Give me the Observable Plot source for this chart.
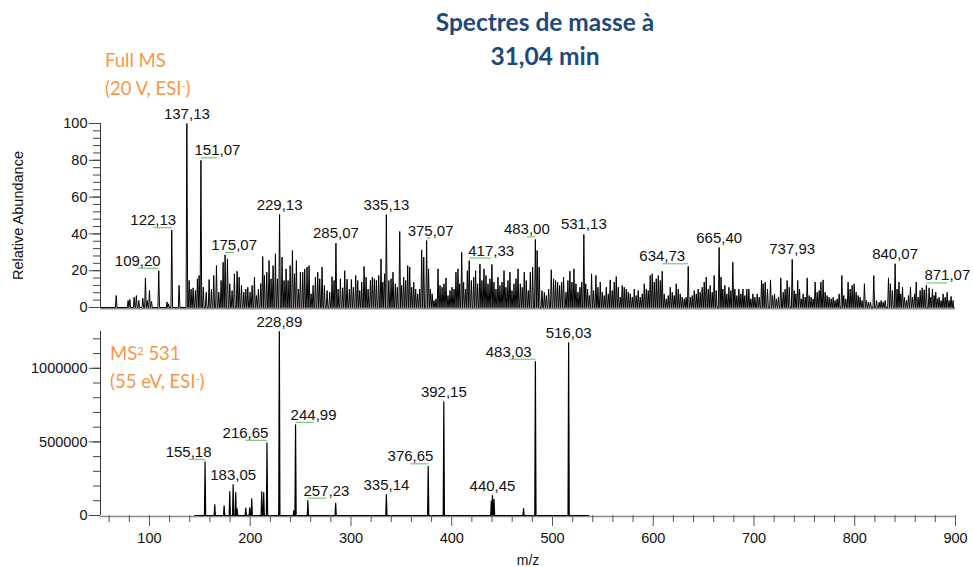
<!DOCTYPE html>
<html><head><meta charset="utf-8">
<script src="https://cdn.jsdelivr.net/npm/d3@7"></script>
<script src="https://cdn.jsdelivr.net/npm/@observablehq/plot@0.6"></script>
<style>
html,body{margin:0;padding:0;background:#fff;}
#chart{position:relative;width:973px;height:567px;overflow:hidden;font-family:"Liberation Sans",Arial,sans-serif;}
#chart .pbox{position:absolute;left:0;}
.title{position:absolute;left:345px;width:400px;top:5px;text-align:center;font-family:Lato,"Open Sans",sans-serif;font-weight:700;font-size:24.5px;line-height:34px;color:#1f497d;}
.cond{position:absolute;font-family:Lato,"Open Sans",sans-serif;font-size:18.5px;line-height:28px;color:#f79646;white-space:nowrap;}
.cond sup{font-size:0.6em;position:relative;top:-0.45em;vertical-align:baseline;line-height:0;}
</style>
</head><body>
<div id="chart">
  <div class="title">Spectres de masse à<br>31,04 min</div>
  <div class="cond" style="left:105px;top:46px;">Full MS<br>(20 V, ESI<sup>-</sup>)</div>
  <div class="cond" style="left:110px;top:339px;">MS<sup>2</sup> 531<br>(55 eV, ESI<sup>-</sup>)</div>
</div>
<script>
// ---------- data ----------
const fullMsPeaks = [
[67,6.5],[78.8,3.8],[80.5,4.3],[84.8,5.6],[87,6.5],[89.4,3.8],[93.4,5],[96,16],[97.7,3.8],[100,9.2],[102,3.3],[109.2,20],[117.5,3],[118.9,2],[122.13,42],[129.4,12],[137.13,100],[139.4,14.7],[141.3,10],[143.3,10.7],[145.6,9.2],[147.6,15.6],[149.3,17.4],[151.07,80],[153.4,11],[156.3,8.3],[159.2,15.2],[161.5,10],[163.8,17.4],[166.5,22.8],[168.8,8.3],[171.1,14.7],[173.1,24.6],[175.07,28.6],[177.4,26.4],[179.7,12.9],[182,9.2],[184.3,18.3],[187,19.7],[189,16.5],[191.3,12],[193.6,8.3],[195.6,10],[197.6,11],[199.9,8.3],[201.9,12],[204.2,16.5],[206.2,6.5],[208.1,10],[210.5,13],[212.4,27.7],[214.1,17.4],[216.4,19.2],[218.7,25.5],[220.7,15.6],[222.7,22.8],[225,29.2],[227,15.6],[229.13,50.5],[231.6,27.4],[233.6,14.7],[235.6,21],[237.6,14.7],[239.6,22.8],[241.9,31],[243.9,18.3],[245.8,25.5],[247.8,10],[249.8,19.2],[252.1,19.2],[254.1,21],[256.4,22],[258.4,22.8],[260.4,7.4],[262.4,12],[264.7,16.5],[267,19.2],[269,15.6],
[271.3,22],[273.6,12],[276.3,9.2],[278.9,8.3],[281.2,16.8],[283.2,14.7],[285.07,35],[287.2,10],[289.5,15.6],[291.8,10.7],[293.8,20],[296.1,15.4],[298.4,10],[300.4,15.2],[302.4,11],[304.7,17.4],[306.7,14.7],[308.7,9.2],[310.7,13.8],[313,22.3],[315,16.5],[317,10],[319.3,14.7],[321.2,16.5],[323.2,15.6],[325.2,14.7],[327.5,17.4],[329.8,26.4],[331.6,13.8],[333.3,18.3],[335.13,50.5],[337.6,14.7],[339.8,15.6],[341.7,19.2],[344,12.9],[346,11],[348.4,41.3],[350.3,12],[352.3,16.5],[354.3,14.7],[356.3,22.8],[358.3,22],[360.3,11],[362.3,13.8],[364.2,10],[366.2,7.4],[368.2,10],[370.2,31.3],[372.2,27.4],[375.07,36.4],[377,21],[378.8,10],[380.6,7.4],[382.4,3.8],[384.4,4.7],[386.4,21],[388.4,12],[390.4,11],[392.3,12.9],[394.3,16.1],[396.3,6.5],[398.3,9.2],[400.3,11],[402.3,10],[404.2,19.2],[406.2,21],[407.9,12.9],[409.9,30],[411.8,13.8],[413.8,10],[415.5,20],[417.33,25.5],[419.5,14.7],[421.8,16.5],[423.7,20],[425.7,12.9],[428,23.7],[430,14.7],[432,21],[434,17.4],[436,12.9],[438,15.6],[439.9,23.4],[441.9,13.8],[443.9,10],[445.9,16.5],[447.9,12],[449.9,13.8],[451.9,20],[453.8,11],[455.8,14.7],[457.8,19.2],[459.8,9.2],[461.8,12.9],[463.8,15.6],[465.8,21],[468.1,12.9],[470,11],[472,19.2],[474,14.7],[476,9.2],[478,19.2],[480.3,22],[483,37],[484.8,31],[486.8,22],
[489.6,9.2],[491.9,8.3],[493.9,6.5],[496.2,10],[498.8,20.5],[501.1,15.6],[503.1,14.7],[505.1,13.8],[507.1,12],[509.1,13.8],[511,16.5],[513.4,8.3],[515.3,14.7],[517.3,19.7],[519.3,13.8],[521.3,21],[523.3,12.9],[525.3,8.3],[527.3,11],[529,13.8],[531.13,39.7],[533,12.9],[534.8,10],[536.6,6.5],[538.8,18.3],[540.8,9.2],[543.1,17.4],[545.1,11],[547.4,13.8],[549.4,8.3],[551.4,6.5],[553.4,11],[555.4,7.4],[557.3,15],[559.3,9.2],[561.3,13.8],[563.3,16.8],[565.3,11],[567.3,5.6],[569.2,12],[571.2,11],[573.2,10],[575.2,8.3],[577.2,7.4],[579.2,5.6],[581.2,10],[583.1,6.5],[585.1,9.2],[587.1,5.6],[589.1,7.4],[591.1,12.9],[593.1,10],[595,9.2],[597,17.4],[599,18.3],[601,13.8],[603,15.6],[605,17.4],[607,14.7],[608.9,19.7],[610.9,7.4],[612.9,4.7],[614.9,6.5],[616.9,11],[618.9,8.3],[620.8,6.5],[622.8,12.9],[624.8,10],[626.8,7.4],[628.8,5.6],[630.8,4.7],[632.6,5.6],[634.73,22.4],[636.8,5.6],[638.7,6.5],[640.7,9.2],[642.7,7.4],[644.6,10],[646.6,8.3],[648.6,11],[650.6,13.8],[652.6,16.5],[654.6,10],[656.5,12],[658.5,8.3],[660.5,17.4],[662.5,9.2],[665.4,32.6],[667.3,16.5],[669.1,10],[671.1,12],[673.1,7.4],[675.1,11],[677.1,9.2],[679,24.6],[681,10],[683,6.5],[685,10],[687,7.4],[689,10],[690.9,6.5],[692.9,10],[694.9,10],[696.9,4.7],[698.9,7.4],
[700.9,5.6],[703.2,7.4],[705.2,5.6],[707.5,14.7],[709.1,12.9],[711.1,13.8],[713.4,10],[716.4,15],[718.4,6.5],[720.4,7.4],[722.3,4.7],[724.3,5.6],[726.6,16.1],[729,8.3],[730.9,10],[732.9,14.7],[735,11],[737.93,26.2],[739.9,9.2],[741.6,7.4],[743.4,14.7],[745.2,10],[746.9,4.7],[748.8,7.4],[750.8,5.6],[752.8,16.1],[754.8,6.5],[756.7,5.6],[758.7,4.7],[760.7,13.8],[762.7,8.3],[764.7,9.2],[766.4,13.8],[768.6,15],[770.6,8.3],[772.6,6.5],[774.6,5.6],[776.6,4.7],[778.6,5.6],[780.5,3.8],[782.5,4.7],[784.5,7.4],[787.2,17.4],[789.1,6.5],[791.1,4.7],[793.4,13.8],[795.4,10],[797.4,12],[799.4,12.9],[801.4,8.3],[803.4,6.5],[805.3,5.6],[807.3,3.8],[809.6,12.9],[811.6,3.8],[813.6,2.9],[815.6,2.9],[818.9,17.4],[821.6,3.8],[824.2,2.9],[826.2,3.8],[828.2,2.9],[830.2,3.8],[833.5,16.1],[835.4,12.9],[837.4,9.2],[840.07,23.8],[842,10],[843.9,13.8],[845.7,7.4],[847.4,11],[849.3,5.6],[851.3,3.8],[853.3,6.5],[855.3,11],[857.3,5.6],[859.3,7.4],[861,13.8],[862.9,5.6],[864.9,9.2],[866.9,10.7],[868.9,9.6],[871.07,12],[873.8,10.7],[875.5,5.6],[877.1,10],[878.8,6.5],[880.4,8.3],[882.1,4.7],[883.7,5.6],[885.7,3.8],[887.7,7.4],[889.7,5.6],[891.7,8.3],[893.6,3.8],[895.6,6],[897.6,3.8]
];
const fullMsRange = [51.4, 898];
const fullMsLabelMz = [109.2,122.13,137.13,151.07,175.07,229.13,285.07,335.13,375.07,417.33,483.00,531.13,634.73,665.40,737.93,840.07,871.07];

const ms2Peaks = [
[155.18,365000],[164.8,74000],[174.1,66000],[179.7,162000],[183.05,210000],[185.6,156000],[187,45000],[195.6,50000],[199.5,52000],[201.5,115000],[211.4,162000],[213.4,156000],[216.65,494000],[228.89,1250000],[243.3,34000],[244.99,616000],[257.23,101000],[284.8,83000],[335.14,142000],[376.65,334000],[392.15,772000],[439.3,100000],[440.45,135000],[442,110000],[471.3,47000],[483.03,1045000],[516.03,1173000]
];
const ms2Range = [145, 536];
const ms2LabelMz = [155.18,183.05,216.65,228.89,244.99,257.23,335.14,376.65,392.15,440.45,483.03,516.03];

const xDomain = [51.4, 900];
const xTicks = [100,200,300,400,500,600,700,800,900];
const fullMsYTicks = [0,20,40,60,80,100];
const ms2YTicks = [0,500000,1000000];
const ms2YDomain = [0, 1250000];

// ---------- layout / style ----------
const W = 973, ML = 100, MR = 18;
const pxPerMz = (W - ML - MR) / (xDomain[1] - xDomain[0]);
const fullMsNudge = [-21,-18.5,0,16.5,9,0,0,0,4,22,-8.5,0,-26,0,0,0,21];
const ms2Nudge = [-16.5,0,-21.5,0,18,18.5,0,-17.7,0,0,-26.7,0];
const FONT = "'Liberation Sans', Arial, sans-serif";
const fmt = m => d3.format(".2f")(m).replace(".", ",");

function profile(peaks, range, w) {
  const pts = [{x: range[0], y: 0}, {x: range[1], y: 0}];
  for (const [m, h] of peaks) pts.push({x: m - w, y: 0}, {x: m, y: h}, {x: m + w, y: 0});
  return pts.sort((a, b) => a.x - b.x);
}
function labelRows(peaks, labels, nudges) {
  return labels.map((m, i) => {
    const p = peaks.find(d => Math.abs(d[0] - m) < 1e-6);
    return {m, h: p[1], t: fmt(m), lx: m + nudges[i] / pxPerMz, lead: nudges[i] !== 0};
  });
}

const topRows = labelRows(fullMsPeaks, fullMsLabelMz, fullMsNudge);
const botRows = labelRows(ms2Peaks, ms2LabelMz, ms2Nudge);

const common = {
  width: W, marginLeft: ML, marginRight: MR,
  style: {background: "transparent", fontFamily: FONT, fontSize: "14.5px", color: "#111", overflow: "visible"}
};

const topPlot = Plot.plot({
  ...common,
  height: 230, marginTop: 33, marginBottom: 13,
  x: {domain: xDomain, axis: null},
  y: {domain: [0, 100]},
  marks: [
    Plot.ruleY([0], {stroke: "#8c8c8c", strokeWidth: 2, dy: 1}),
    Plot.line(profile(fullMsPeaks, fullMsRange, 0.8), {x: "x", y: "y", stroke: "#000", strokeWidth: 1}),
    Plot.ruleX([xDomain[0]], {stroke: "#333", strokeWidth: 1}),
    Plot.axisY({ticks: d3.range(0, 101, 4), tickSize: 7, tickFormat: () => "", stroke: "#444", label: null}),
    Plot.axisY({ticks: fullMsYTicks, tickSize: 11, tickPadding: 2, stroke: "#444", fill: "#111", fontSize: 14.5, label: null}),
    Plot.text(["Relative Abundance"], {frameAnchor: "left", textAnchor: "middle", lineAnchor: "middle", rotate: -90, dx: -82, fontSize: 14.5, fill: "#111"}),
    Plot.link(topRows.filter(d => d.lead), {x1: "m", x2: "lx", y1: "h", y2: "h", dy: -2.5, stroke: "#5cbf5c", strokeWidth: 1}),
    Plot.text(topRows, {x: "lx", y: "h", text: "t", lineAnchor: "bottom", dy: -5, fontSize: 15, fill: "#111"})
  ]
});

const botPlot = Plot.plot({
  ...common,
  height: 267, marginTop: 31, marginBottom: 52,
  x: {domain: xDomain},
  y: {domain: ms2YDomain},
  marks: [
    Plot.ruleY([0], {stroke: "#8c8c8c", strokeWidth: 1.5, dy: 1}),
    Plot.line(profile(ms2Peaks, ms2Range, 0.6), {x: "x", y: "y", stroke: "#000", strokeWidth: 1.2}),
    Plot.ruleX([xDomain[0]], {stroke: "#333", strokeWidth: 1}),
    Plot.axisY({ticks: d3.range(0, 1250001, 100000), tickSize: 7, tickFormat: () => "", stroke: "#444", label: null}),
    Plot.axisY({ticks: ms2YTicks, tickSize: 11, tickPadding: 2, tickFormat: d => String(d), stroke: "#444", fill: "#111", fontSize: 14.5, label: null}),
    Plot.axisX({ticks: d3.range(60, 900, 20).filter(v => v % 100 !== 0), tickSize: 7, tickFormat: () => "", stroke: "#555", label: null}),
    Plot.axisX({ticks: xTicks, tickSize: 11, tickPadding: 6, stroke: "#555", fill: "#111", fontSize: 14.5, label: null}),
    Plot.text(["m/z"], {frameAnchor: "bottom", lineAnchor: "bottom", dy: 49, fontSize: 14, fill: "#111"}),
    Plot.link(botRows.filter(d => d.lead), {x1: "m", x2: "lx", y1: "h", y2: "h", dy: -2.5, stroke: "#5cbf5c", strokeWidth: 1}),
    Plot.text(botRows, {x: "lx", y: "h", text: "t", lineAnchor: "bottom", dy: -5, fontSize: 15, fill: "#111"})
  ]
});

const chart = document.getElementById("chart");
const b1 = document.createElement("div"); b1.className = "pbox"; b1.style.top = "90px"; b1.appendChild(topPlot);
const b2 = document.createElement("div"); b2.className = "pbox"; b2.style.top = "300px"; b2.appendChild(botPlot);
chart.insertBefore(b2, chart.firstChild);
chart.insertBefore(b1, chart.firstChild);
</script>
</body></html>
